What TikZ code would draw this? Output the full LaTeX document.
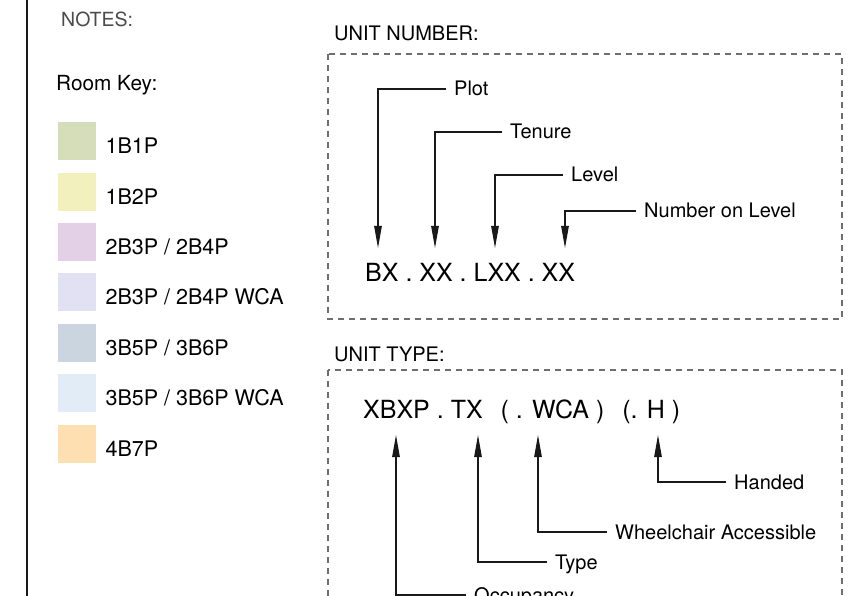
\documentclass[tikz,border=0pt]{standalone}
\usepackage{fontspec}
\setmainfont{TeX Gyre Heros}
\usetikzlibrary{arrows.meta, positioning}
\definecolor{keyone}{RGB}{213,221,185}
\definecolor{keytwo}{RGB}{242,241,190}
\definecolor{keythree}{RGB}{227,208,230}
\definecolor{keythreew}{RGB}{226,224,243}
\definecolor{keyfive}{RGB}{203,213,223}
\definecolor{keyfivew}{RGB}{226,236,246}
\definecolor{keyseven}{RGB}{253,223,178}
\definecolor{inkdark}{RGB}{25,25,25}
\definecolor{dashgrey}{RGB}{110,110,110}
\definecolor{notegrey}{RGB}{75,75,75}
\tikzset{
  swatch/.style={rectangle, fill=#1, minimum size=38pt, inner sep=0pt,
    anchor=north west},
  keytext/.style={anchor=west, inner sep=0pt, text height=15pt,
    text depth=0pt, font=\fontsize{21.5}{26}\selectfont},
  head/.style={anchor=base west, inner sep=0pt,
    font=\fontsize{20}{24}\selectfont},
  code/.style={anchor=base west, inner sep=0pt,
    font=\fontsize{25}{30}\selectfont},
  lead/.style={anchor=west, inner xsep=8pt, inner ysep=0pt,
    text height=14pt, text depth=0pt, font=\fontsize{20}{24}\selectfont},
  ptr/.style={-{Triangle[length=22pt,width=7.5pt]}, line width=1.1pt,
    draw=inkdark},
  dashbox/.style={draw=dashgrey, line width=1.1pt,
    dash pattern=on 6pt off 5pt}
}

\begin{document}
\begin{tikzpicture}[x=1pt, y=-1pt]
  \useasboundingbox (0,0) rectangle (860,596);
  \clip (0,0) rectangle (860,596);
  \fill[white] (0,0) rectangle (860,596);
  \draw[line width=1.6pt, inkdark] (27,-5) -- (27,605);

  % notes and room key
  \node[head, font=\fontsize{19.5}{23}\selectfont, text=notegrey] (notes) at (61,27) {NOTES:};
  \node[head, font=\fontsize{20.8}{25}\selectfont] (roomkey) at (56,91) {Room Key:};
  \node[swatch=keyone] (s1) at (58,122) {};
  \node[swatch=keytwo, below=12pt of s1] (s2) {};
  \node[swatch=keythree, below=12pt of s2] (s3) {};
  \node[swatch=keythreew, below=12pt of s3] (s4) {};
  \node[swatch=keyfive, below=12pt of s4] (s5) {};
  \node[swatch=keyfivew, below=12pt of s5] (s6) {};
  \node[swatch=keyseven, below=12pt of s6] (s7) {};
  \node[keytext, right=9pt of s1, yshift=-5pt] (k1) {1B1P};
  \node[keytext, right=9pt of s2, yshift=-5pt] (k2) {1B2P};
  \node[keytext, right=9pt of s3, yshift=-5pt] (k3) {2B3P / 2B4P};
  \node[keytext, right=9pt of s4, yshift=-5pt] (k4) {2B3P / 2B4P WCA};
  \node[keytext, right=9pt of s5, yshift=-5pt] (k5) {3B5P / 3B6P};
  \node[keytext, right=9pt of s6, yshift=-5pt] (k6) {3B5P / 3B6P WCA};
  \node[keytext, right=9pt of s7, yshift=-5pt] (k7) {4B7P};

  % unit number
  \node[head] (numtitle) at (334,41) {UNIT NUMBER:};
  \draw[dashbox] (328,54) rectangle (842,319);
  \node[code] (numcode) at (365,282) {BX . XX . LXX . XX};
  \coordinate (tPlot) at (378,248);
  \coordinate (tTenure) at (435,248);
  \coordinate (tLevel) at (495,248);
  \coordinate (tNum) at (565,248);
  \node[lead] (plot) at (446,89) {Plot};
  \node[lead] (tenure) at (502,132) {Tenure};
  \node[lead] (level) at (563,175) {Level};
  \node[lead] (numlevel) at (636,211) {Number on Level};
  \draw[ptr] (plot.west) -| (tPlot);
  \draw[ptr] (tenure.west) -| (tTenure);
  \draw[ptr] (level.west) -| (tLevel);
  \draw[ptr] (numlevel.west) -| (tNum);

  % unit type
  \node[head] (typetitle) at (334,361) {UNIT TYPE:};
  \draw[dashbox] (328,370) rectangle (842,660);
  \node[code] (typecode) at (363,418)
    {XBXP . TX\hspace{0.72em}( . WCA )\hspace{0.72em}(. H )};
  \coordinate (tOcc) at (396,435);
  \coordinate (tType) at (478,435);
  \coordinate (tWca) at (538,435);
  \coordinate (tHand) at (658,435);
  \node[lead] (handed) at (726,482) {Handed};
  \node[lead] (wca) at (607,532) {Wheelchair Accessible};
  \node[lead] (type) at (547,562) {Type};
  \node[lead] (occ) at (466,595) {Occupancy};
  \draw[ptr] (handed.west) -| (tHand);
  \draw[ptr] (wca.west) -| (tWca);
  \draw[ptr] (type.west) -| (tType);
  \draw[ptr] (occ.west) -| (tOcc);
\end{tikzpicture}
\end{document}
